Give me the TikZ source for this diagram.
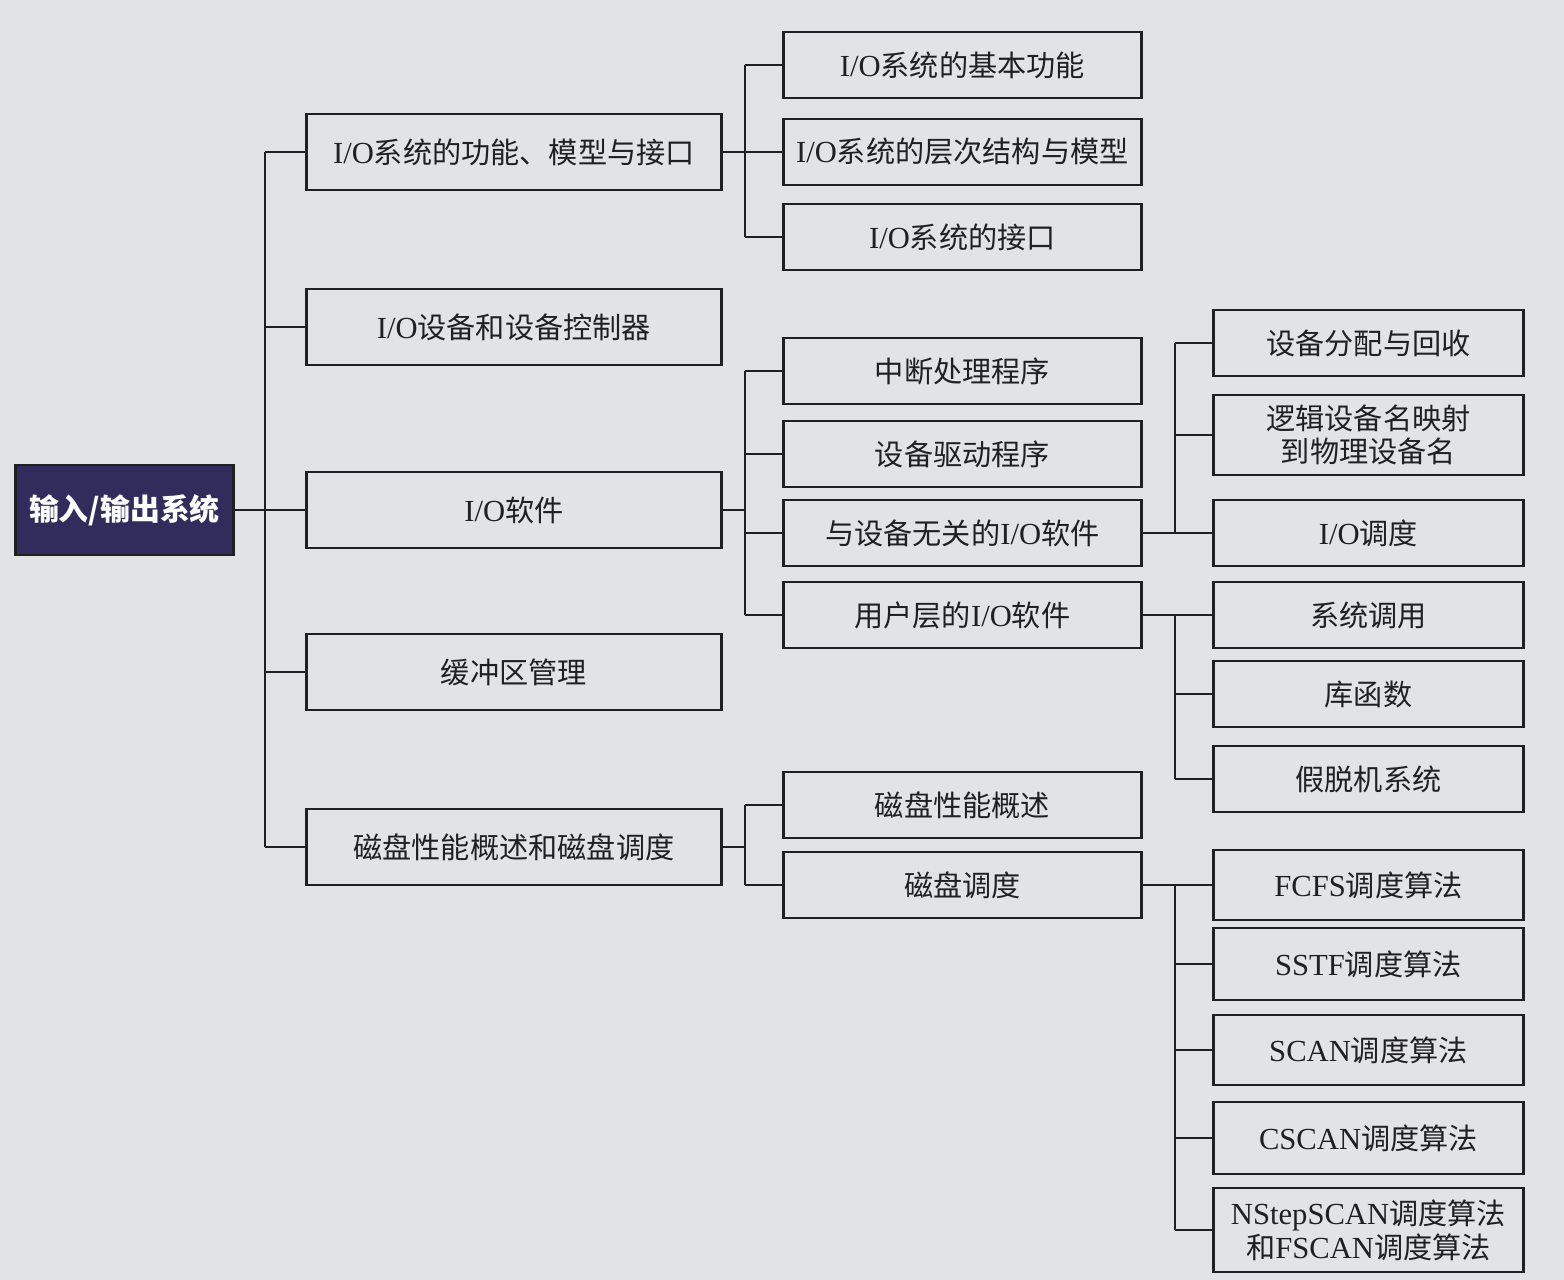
\documentclass[tikz,border=0pt]{standalone}
\usepackage{fontspec}
\setmainfont{Noto Sans CJK SC}
\newfontfamily\latinfont[Scale=1.05]{Liberation Serif}
\newcommand{\lt}[1]{{\latinfont #1}}
\usetikzlibrary{positioning}
\definecolor{papier}{RGB}{226,227,229}
\definecolor{tinte}{RGB}{32,32,34}
\definecolor{nachtblau}{RGB}{50,44,92}

\tikzset{
    kasten/.style={draw=tinte, line width=0.8pt, anchor=west, align=center,
        text=tinte, inner sep=1pt, font=\fontsize{8.3}{9.6}\selectfont},
    ebeneA/.style={kasten, minimum width=4.15cm, minimum height=0.76cm},
    ebeneB/.style={kasten, minimum width=3.58cm, minimum height=0.66cm},
    ebeneC/.style={kasten, minimum width=3.10cm, minimum height=0.66cm},
    wurzel/.style={kasten, fill=nachtblau, text=white, minimum width=2.18cm,
        minimum height=0.90cm, font=\fontsize{8.5}{9.8}\selectfont\bfseries},
    linie/.style={draw=tinte, line width=0.7pt}
}

\begin{document}
\begin{tikzpicture}
    % Hintergrund und Rand
    \fill[papier] (0,0) rectangle (15.64,-12.8);
    \useasboundingbox (0,0) rectangle (15.64,-12.8);

    % x-Lage der senkrechten Linien
    \coordinate (s0) at (2.65,0);
    \coordinate (s1) at (7.45,0);
    \coordinate (s2) at (11.75,0);

    % Wurzel
    \node[wurzel] (root) at (0.14,-5.10) {输入/输出系统};

    % Erste Ebene
    \node[ebeneA] (k1) at (3.05,-1.52) {\lt{I/O}系统的功能、模型与接口};
    \node[ebeneA] (k2) at (3.05,-3.27) {\lt{I/O}设备和设备控制器};
    \node[ebeneA] (k3) at (3.05,-5.10) {\lt{I/O}软件};
    \node[ebeneA] (k4) at (3.05,-6.72) {缓冲区管理};
    \node[ebeneA] (k5) at (3.05,-8.47) {磁盘性能概述和磁盘调度};

    % Zweite Ebene
    \node[ebeneB] (a1) at (7.82,-0.65) {\lt{I/O}系统的基本功能};
    \node[ebeneB] (a2) at (7.82,-1.52) {\lt{I/O}系统的层次结构与模型};
    \node[ebeneB] (a3) at (7.82,-2.37) {\lt{I/O}系统的接口};

    \node[ebeneB] (b1) at (7.82,-3.71) {中断处理程序};
    \node[ebeneB] (b2) at (7.82,-4.54) {设备驱动程序};
    \node[ebeneB] (b3) at (7.82,-5.33) {与设备无关的\lt{I/O}软件};
    \node[ebeneB] (b4) at (7.82,-6.15) {用户层的\lt{I/O}软件};

    \node[ebeneB] (d1) at (7.82,-8.05) {磁盘性能概述};
    \node[ebeneB] (d2) at (7.82,-8.85) {磁盘调度};

    % Dritte Ebene
    \node[ebeneC] (c1) at (12.12,-3.43) {设备分配与回收};
    \node[ebeneC, minimum height=0.80cm] (c2) at (12.12,-4.35) {逻辑设备名映射\\到物理设备名};
    \node[ebeneC] (c3) at (12.12,-5.33) {\lt{I/O}调度};

    \node[ebeneC] (u1) at (12.12,-6.15) {系统调用};
    \node[ebeneC] (u2) at (12.12,-6.94) {库函数};
    \node[ebeneC] (u3) at (12.12,-7.79) {假脱机系统};

    \node[ebeneC, minimum height=0.70cm] (f1) at (12.12,-8.85) {\lt{FCFS}调度算法};
    \node[ebeneC, minimum height=0.72cm] (f2) at (12.12,-9.64) {\lt{SSTF}调度算法};
    \node[ebeneC, minimum height=0.70cm] (f3) at (12.12,-10.50) {\lt{SCAN}调度算法};
    \node[ebeneC, minimum height=0.72cm] (f4) at (12.12,-11.38) {\lt{CSCAN}调度算法};
    \node[ebeneC, minimum height=0.84cm] (f5) at (12.12,-12.30) {\lt{NStepSCAN}调度算法\\和\lt{FSCAN}调度算法};

    % Stamm
    \draw[linie] (root.east) -- (k3.west);
    \draw[linie] (k1.west -| s0) -- (k5.west -| s0);
    \foreach \k in {k1,k2,k3,k4,k5}
        \draw[linie] (\k.west -| s0) -- (\k.west);

    % Aeste der zweiten Ebene
    \draw[linie] (k1.east) -- (k1.east -| s1);
    \draw[linie] (a1.west -| s1) -- (a3.west -| s1);
    \foreach \k in {a1,a2,a3}
        \draw[linie] (\k.west -| s1) -- (\k.west);

    \draw[linie] (k3.east) -- (k3.east -| s1);
    \draw[linie] (b1.west -| s1) -- (b4.west -| s1);
    \foreach \k in {b1,b2,b3,b4}
        \draw[linie] (\k.west -| s1) -- (\k.west);

    \draw[linie] (k5.east) -- (k5.east -| s1);
    \draw[linie] (d1.west -| s1) -- (d2.west -| s1);
    \foreach \k in {d1,d2}
        \draw[linie] (\k.west -| s1) -- (\k.west);

    % Aeste der dritten Ebene
    \draw[linie] (b3.east) -- (b3.east -| s2);
    \draw[linie] (c1.west -| s2) -- (c3.west -| s2);
    \foreach \k in {c1,c2,c3}
        \draw[linie] (\k.west -| s2) -- (\k.west);

    \draw[linie] (b4.east) -- (b4.east -| s2);
    \draw[linie] (u1.west -| s2) -- (u3.west -| s2);
    \foreach \k in {u1,u2,u3}
        \draw[linie] (\k.west -| s2) -- (\k.west);

    \draw[linie] (d2.east) -- (d2.east -| s2);
    \draw[linie] (f1.west -| s2) -- (f5.west -| s2);
    \foreach \k in {f1,f2,f3,f4,f5}
        \draw[linie] (\k.west -| s2) -- (\k.west);
\end{tikzpicture}
\end{document}
